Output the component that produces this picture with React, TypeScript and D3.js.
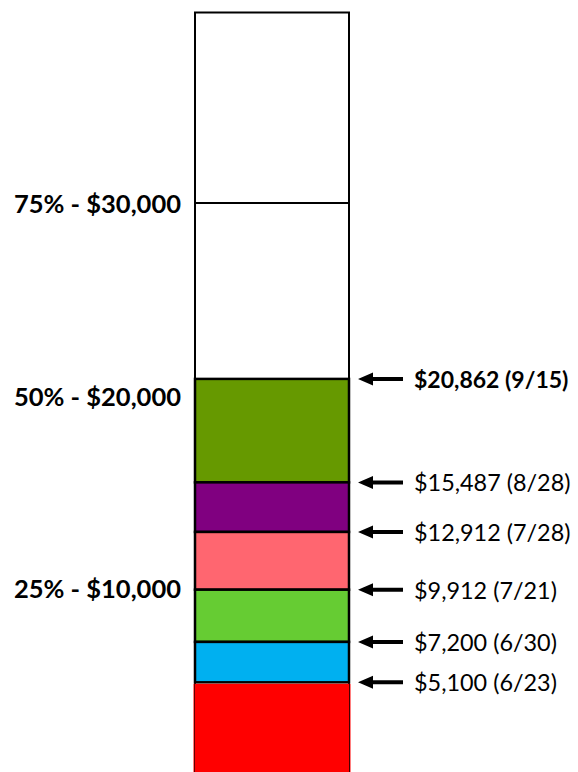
import React from "react";
import * as d3 from "d3";

const goal = 40000;
const milestones = [20862, 15487, 12912, 9912, 7200, 5100];
const milestoneDates = ["9/15", "8/28", "7/28", "7/21", "6/30", "6/23"];
const segmentColors = ["#669900", "#800080", "#FF6670", "#66CC33", "#00B0F0", "#FF0000"];
const tickValues = [30000, 20000, 10000];
const tickPercents = ["75%", "50%", "25%"];

const W = 578;
const H = 772;
const barLeft = 195;
const barRight = 349;

export default function App() {
  const y = d3.scaleLinear().domain([0, goal]).range([780.5, 10.5]);
  const money = d3.format("$,");
  const segs = milestones.map((v, i) => ({
    top: v,
    bottom: i + 1 < milestones.length ? milestones[i + 1] : 0,
    color: segmentColors[i],
    last: i === milestones.length - 1,
  }));
  const font = "Lato, 'Open Sans', sans-serif";
  return (
    <svg width={W} height={H} style={{ position: "absolute", left: 0, top: 0, background: "#fff" }}>
      {/* bar outline */}
      <rect x={barLeft} y={y(goal) + 2} width={barRight - barLeft} height={H} fill="#fff" stroke="#000" strokeWidth={2} />
      {/* 75% line */}
      <line x1={barLeft} x2={barRight} y1={y(30000)} y2={y(30000)} stroke="#000" strokeWidth={2} />
      {segs.map((s, i) =>
        s.last ? (
          <g key={i}>
            <rect x={barLeft - 1.5} y={y(s.top) + 1.5} width={barRight - barLeft + 3} height={y(s.bottom) - y(s.top)} fill={s.color} />
            <line x1={barLeft - 0.5} x2={barLeft - 0.5} y1={y(s.top) + 1.5} y2={H} stroke="#600" strokeWidth={1} />
            <line x1={barRight + 0.5} x2={barRight + 0.5} y1={y(s.top) + 1.5} y2={H} stroke="#400" strokeWidth={1} />
          </g>
        ) : (
          <rect key={i} x={barLeft} y={y(s.top)} width={barRight - barLeft} height={y(s.bottom) - y(s.top)} fill={s.color} stroke="#000" strokeWidth={2.5} />
        )
      )}
      {/* tick labels */}
      {tickValues.map((v, i) => (
        <text key={v} x={181} y={y(v)} textAnchor="end" dominantBaseline="central" fontFamily={font} fontWeight="bold" fontSize={25.5} fill="#000">
          {`${tickPercents[i]} - ${money(v)}`}
        </text>
      ))}
      {/* arrows and labels */}
      {milestones.map((v, i) => {
        const yy = y(v);
        const d = `M358,${yy} L373,${yy - 6.5} L373,${yy - 2} L403,${yy - 2} L403,${yy + 2} L373,${yy + 2} L373,${yy + 6.5} Z`;
        return (
          <g key={v}>
            <path d={d} fill="#000" />
            <text x={414} y={yy} dominantBaseline="central" fontFamily={font} fontWeight={i === 0 ? "bold" : "normal"} fontSize={i === 0 ? 23 : 23.4} fill="#000">
              {`${money(v)} (${milestoneDates[i]})`}
            </text>
          </g>
        );
      })}
    </svg>
  );
}
